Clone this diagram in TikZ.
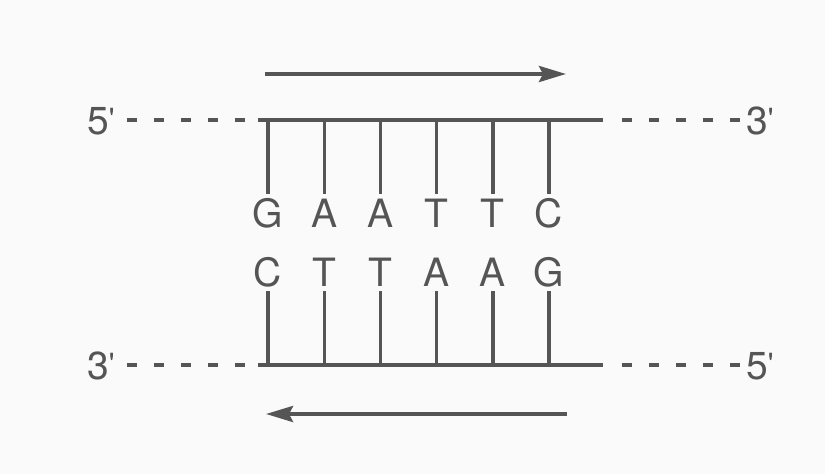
\documentclass[tikz,border=0pt]{standalone}
\usepackage{fontspec}
\setmainfont{TeX Gyre Heros}
\usetikzlibrary{positioning, arrows.meta}
\definecolor{ink}{HTML}{555555}
\newcommand{\prm}{\raisebox{5pt}{\fontsize{30}{30}\selectfont\textquotesingle}}
\tikzset{
  strand/.style={
    draw=ink,
    line width=3.6pt
  },
  bond/.style={
    draw=ink,
    line width=3.4pt
  },
  tail/.style={
    draw=ink,
    line width=3.6pt,
    dash pattern=on 10pt off 17pt
  },
  base/.style={
    text=ink,
    inner sep=5pt,
    text height=28pt,
    text depth=0pt,
    font=\fontsize{39}{40}\selectfont
  },
  direction/.style={
    draw=ink,
    line width=3.8pt,
    -{Stealth[length=27pt,width=16pt,inset=4pt]}
  }
}

\begin{document}
\begin{tikzpicture}[x=1pt, y=-1pt]
        \fill[white!98!black] (0,0) rectangle (825,474);
        \useasboundingbox (0,0) rectangle (825,474);

        % strand ends
        \coordinate (t1) at (258,120);
        \coordinate (t2) at (603,120);
        \coordinate (b1) at (258,365);
        \coordinate (b2) at (603,365);
        \node[base, inner sep=2pt] (t5) at (101,120) {5\prm};
        \node[base, inner sep=2pt] (t3) at (760,120) {3\prm};
        \node[base, inner sep=2pt] (b3) at (101,365) {3\prm};
        \node[base, inner sep=2pt] (b5) at (760,365) {5\prm};

        \draw[strand] (t1) -- (t2);
        \draw[strand] (b1) -- (b2);
        \draw[tail] ([xshift=10pt]t5.east) -- (t1);
        \draw[tail] ([xshift=-4pt]t3.west) -- ([xshift=15pt]t2);
        \draw[tail] ([xshift=10pt]b3.east) -- (b1);
        \draw[tail] ([xshift=-4pt]b5.west) -- ([xshift=15pt]b2);

        % base pairs
        \foreach \up/\down [count=\i from 0] in {G/C, A/T, A/T, T/A, T/A, C/G} {
          \node[base] (up\i) at (268+56.2*\i,213) {\up};
          \node[base] (down\i) at (268+56.2*\i,272) {\down};
          \draw[bond] (up\i.north |- t1) -- (up\i.north);
          \draw[bond] (down\i.south) -- (down\i.south |- b1);
        }

        % reading direction
        \coordinate (a1) at (265,74);
        \coordinate (a2) at (566,74);
        \coordinate (c1) at (567,414);
        \coordinate (c2) at (266,414);
        \draw[direction] (a1) -- (a2);
        \draw[direction] (c1) -- (c2);
      \end{tikzpicture}
\end{document}
